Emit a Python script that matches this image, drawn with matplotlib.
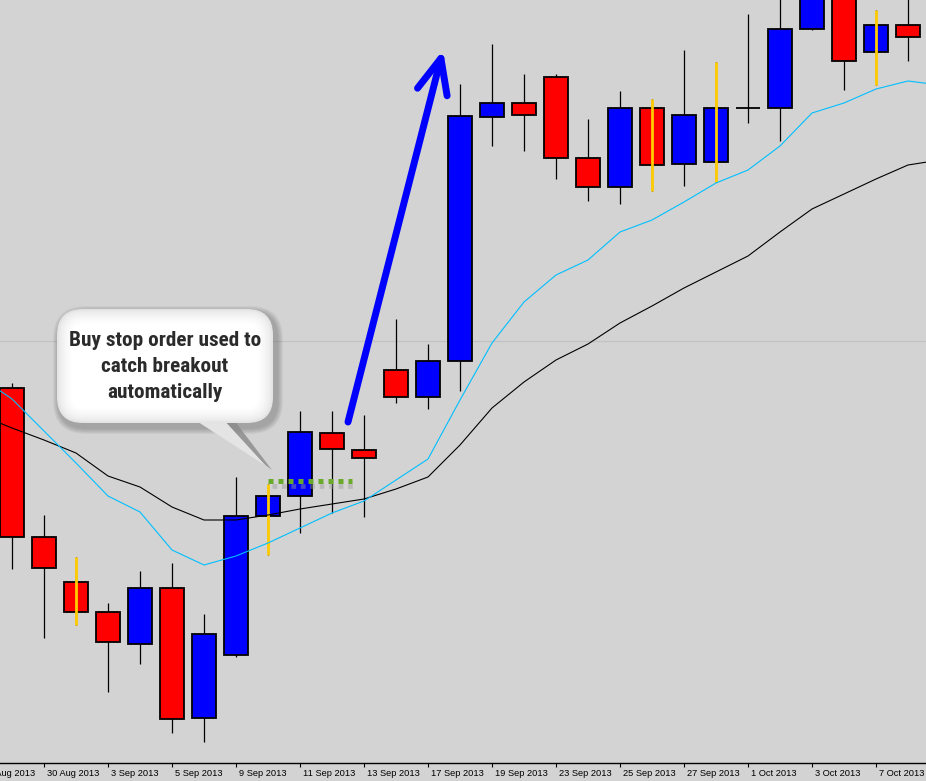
import numpy as np
import matplotlib
matplotlib.use("Agg")
import matplotlib.pyplot as plt
import matplotlib.transforms as mtransforms
from matplotlib.patches import FancyArrowPatch, FancyBboxPatch, Polygon, ArrowStyle

W, H = 926, 781

# daily bars 29 Aug 2013 .. 8 Oct 2013 (price in chart units)
opens  = [375, 226, 181, 151, 119, 175, 45, 108, 247, 267, 330, 313, 393, 366, 402,
          646, 660, 686, 605, 576, 655, 599, 601, 655, 655, 734, 820, 711, 738]
highs  = [380, 248, 206, 160, 192, 200, 149, 286, 279, 352, 352, 348, 444, 419, 679,
          719, 689, 689, 644, 672, 664, 713, 701, 749, 785, 830, 840, 753, 775]
lows   = [194, 125, 138, 71, 99, 30, 21, 106, 208, 230, 250, 246, 360, 354, 372,
          617, 612, 584, 562, 559, 572, 577, 581, 640, 622, 733, 673, 678, 702]
closes = [226, 195, 151, 121, 175, 44, 129, 247, 267, 331, 314, 305, 366, 402, 647,
          660, 648, 605, 576, 655, 598, 648, 655, 655, 734, 800, 702, 738, 726]
yellow_wick = [2, 8, 20, 22, 27]

# moving averages, 28 Aug .. 9 Oct (one bar each side off screen)
ma_fast = [386, 364, 332, 300, 267, 251, 213, 198, 207, 220, 235, 250, 262, 283, 304, 363,
           420, 461, 488, 503, 531, 543, 561, 580, 593, 617, 650, 660, 674, 682, 678]
ma_slow = [348, 335, 323, 310, 287, 276, 256, 243, 243, 248, 254, 259, 264, 274, 286, 318,
           355, 381, 403, 419, 440, 457, 475, 491, 507, 531, 554, 569, 584, 598, 603]

tick_pos = [-1, 1, 3, 5, 7, 9, 11, 13, 15, 17, 19, 21, 23, 25, 27]
tick_labels = ['28 Aug 2013', '30 Aug 2013', '3 Sep 2013', '5 Sep 2013', '9 Sep 2013',
               '11 Sep 2013', '13 Sep 2013', '17 Sep 2013', '19 Sep 2013', '23 Sep 2013',
               '25 Sep 2013', '27 Sep 2013', '1 Oct 2013', '3 Oct 2013', '7 Oct 2013']

level_line = 422          # grey horizontal level
entry_level = 282         # buy stop level
entry_span = (8.0, 10.625)
arrow_from = (10.5, 341)
arrow_to = (13.47, 713)
note = ['Buy stop order used to', 'catch breakout', 'automatically']

bg = '#D3D3D3'
fig = plt.figure(figsize=(W / 100, H / 100), dpi=100, facecolor=bg)
ax = fig.add_axes([0, 18 / H, 1, 763 / H])
ax.set_facecolor(bg)

x = np.arange(len(opens))
o = np.array(opens); c = np.array(closes)
up = c >= o
cols = np.where(up, '#0000FF', '#FF0000')

ax.axhline(level_line, color='#C2C2C2', lw=0.9, zorder=1)

# wicks + bodies
ax.vlines(x, lows, highs, color='black', lw=0.9, zorder=2)
ax.bar(x, np.abs(c - o), bottom=np.minimum(o, c), width=0.75, color=cols,
       edgecolor='black', lw=1.3, zorder=3)
yw = np.array(yellow_wick)
ax.vlines(yw, np.array(lows)[yw], np.array(highs)[yw], color='#FFCC00', lw=2.0, zorder=4)

xm = np.arange(-1, len(ma_fast) - 1)
ax.plot(xm, ma_slow, color='black', lw=0.8, zorder=5)
ax.plot(xm, ma_fast, color='#00BFFF', lw=0.8, zorder=5)

# buy stop line with its shadow
sh = mtransforms.offset_copy(ax.transData, fig=fig, x=4, y=-5, units='dots')
ax.hlines(entry_level, *entry_span, color='#9a9a9a', lw=3.4, alpha=0.45,
          linestyles=(0, (1, 1)), transform=sh, zorder=5)
ax.hlines(entry_level, *entry_span, color='#6AAA2A', lw=3.6,
          linestyles=(0, (1, 1)), zorder=6)

# big arrow
ax.add_patch(FancyArrowPatch(arrow_from, arrow_to,
                             arrowstyle=ArrowStyle('->', head_length=25, head_width=11),
                             mutation_scale=1, lw=5, color='#0000FF',
                             shrinkA=0, shrinkB=0, zorder=7))

ax.set_xlim(-0.375, 28.5625)
ax.set_ylim(0, 763)

# speech bubble (pixel coords, origin top-left)
pix = mtransforms.Affine2D().scale(1, -1).translate(0, H)
bx0, by0, bx1, by1 = 57, 309, 273, 423
bw, bh = bx1 - bx0, by1 - by0
for k in range(6):
    g = 7 - k
    fig.add_artist(FancyBboxPatch((bx0 - g + 3, by0 - g + 4), bw + 2 * g, bh + 2 * g,
                                  boxstyle='round,pad=0,rounding_size=%d' % (26 + g),
                                  fc='#555555', ec='none', alpha=0.07, transform=pix, zorder=8))
fig.add_artist(Polygon([(205, 420), (234, 420), (272, 470)], closed=True, fc='#8a8a8a',
                       ec='none', alpha=0.8, transform=pix, zorder=8))
fig.add_artist(Polygon([(192, 418), (222, 418), (266, 466)], closed=True, fc='#e4e4e4',
                       ec='none', transform=pix, zorder=8))
n = 10
for k in range(n):
    g = k * 1.6
    lvl = 0.89 + 0.11 * (k / (n - 1)) ** 0.6
    fig.add_artist(FancyBboxPatch((bx0 + g, by0 + g), bw - 2 * g, bh - 2 * g,
                                  boxstyle='round,pad=0,rounding_size=%.1f' % max(26 - g, 4),
                                  fc=(lvl, lvl, lvl), ec='none', transform=pix, zorder=9))
texts = []
for i, line in enumerate(note):
    texts.append(fig.text((bx0 + bx1) / 2 / W, 1 - (341 + 26 * i) / H, line,
                          ha='center', va='center', fontsize=15.5, fontweight='bold',
                          fontstretch='condensed', color='#2b2b2b',
                          family=['Roboto Condensed', 'Open Sans Condensed',
                                  'Liberation Sans Narrow', 'DejaVu Sans'], zorder=10))
# fit first line to the bubble width (~193 px like the original)
fig.canvas.draw()
rend = fig.canvas.get_renderer()
wmax = texts[0].get_window_extent(rend).width
for t in texts:
    t.set_fontsize(15.5 * 193 / wmax)

# axis
for s in ['top', 'left', 'right']:
    ax.spines[s].set_visible(False)
ax.spines['bottom'].set_color('black')
ax.spines['bottom'].set_linewidth(1.0)
ax.set_yticks([])
ax.set_xticks([p for p in tick_pos if p >= 0])
ax.set_xticklabels([])
ax.tick_params(axis='x', direction='out', length=3, width=0.8, color='black')
lab = mtransforms.blended_transform_factory(ax.transData, fig.transFigure)
for p, t in zip(tick_pos, tick_labels):
    ax.text(p + 0.09, 8 / H, t, transform=lab, ha='left', va='center', fontsize=6.7,
            family=['Liberation Sans', 'DejaVu Sans'], color='black', clip_on=False)

fig.savefig('out.png', dpi=100, facecolor=bg)
